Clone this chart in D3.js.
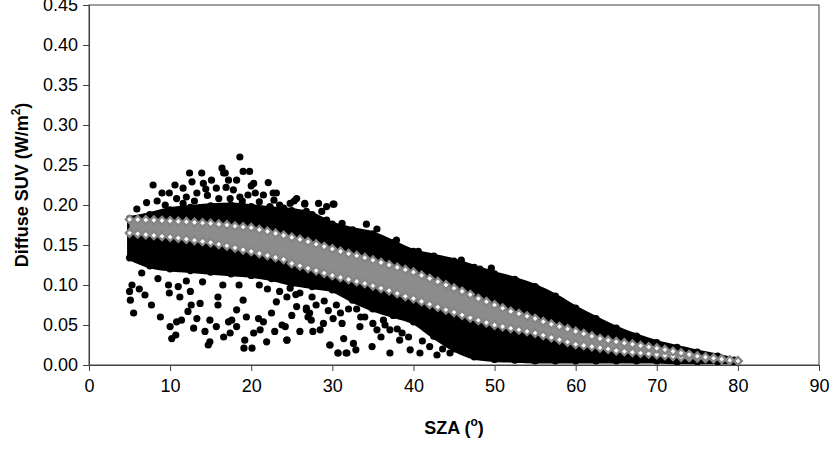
<!DOCTYPE html>
<html>
<head>
<meta charset="utf-8">
<script src="https://cdn.jsdelivr.net/npm/d3@7"></script>
<style>
  body { margin: 0; background: #fff; }
  svg text { font-family: "Liberation Sans", Arial, sans-serif; }
</style>
</head>
<body>
<div id="chart"></div>
<script>
// measured SUV cloud: dense core, upper and lower edge (W/m2) by SZA
const cloudSza = [5, 7.5, 10, 12.5, 15, 17.5, 20, 22.5, 25, 27.5, 30, 32.5, 35, 37.5, 40, 42.5, 45, 47.5, 50, 52.5, 55, 57.5, 60, 62.5, 65, 67.5, 70, 72.5, 75, 77.5, 79.5];
const cloudHi = [0.183, 0.188, 0.194, 0.197, 0.199, 0.2, 0.198, 0.195, 0.193, 0.188, 0.176, 0.169, 0.164, 0.153, 0.142, 0.136, 0.13, 0.122, 0.114, 0.107, 0.098, 0.086, 0.071, 0.058, 0.046, 0.036, 0.028, 0.022, 0.016, 0.011, 0.006];
const cloudLo = [0.134, 0.124, 0.12, 0.118, 0.116, 0.114, 0.112, 0.108, 0.102, 0.098, 0.094, 0.081, 0.07, 0.062, 0.054, 0.036, 0.02, 0.01, 0.007, 0.006, 0.005, 0.005, 0.005, 0.005, 0.005, 0.005, 0.005, 0.004, 0.004, 0.004, 0.004];

// scattered measured points outside the core
const scatterSza = [18.6, 7.9, 7.1, 5.9, 12.4, 13.9, 16.4, 16.8, 19.0, 19.8, 9.0, 9.9, 20.3, 22.1, 22.7, 10.6, 12.7,
  23.1, 25.6, 26.6, 28.3, 30.1, 28.7, 26.6, 29.3, 30.2, 34.2, 35.5, 37.9, 40.6, 42.0, 45.9, 48.2, 49.6,
  10.8, 11.6, 13.3, 14.1, 15.1, 15.7, 16.6, 17.2, 17.8, 18.2, 17.4, 18.6, 19.6, 20.5, 21.5, 22.3, 24.0, 24.8, 26.8, 27.7, 29.3, 31.2, 11.6, 12.5, 19.0, 20.7,
  8.4, 9.4, 12.0, 13.0, 14.6, 16.0, 18.9, 21.0, 23.5, 14.4, 16.9, 20.0, 22.8, 25.3,
  24.4, 24.2, 30.7, 31.7, 29.7, 32.9, 26.0, 27.6, 28.9, 24.4, 25.6, 27.2, 24.8, 26.8,
  5.5, 5.1, 5.0, 6.2, 6.9, 5.3, 7.7, 8.8, 10.0, 10.7, 10.2, 9.8, 9.9, 11.0, 11.2, 12.5, 12.6, 12.2, 11.4, 10.8, 13.3, 13.7, 12.9, 14.3, 14.9, 14.7,
  15.9, 15.9, 17.2, 17.4, 16.6, 18.2, 19.0, 19.2, 19.1, 20.1, 20.3, 21.1, 20.9, 21.9, 22.5, 23.1, 23.8, 24.4, 18.2, 17.6, 14.9, 15.7, 19.4, 21.5, 22.9,
  26.8, 27.4, 28.5, 29.7, 31.4, 30.7, 31.8, 32.6, 33.4, 34.9, 35.5, 37.1, 38.3, 39.6, 40.8, 42.0, 42.9, 37.1, 36.3, 31.2, 30.1,
  38.6, 39.4, 41.1, 43.6, 44.5, 41.6, 43.1, 36.0, 34.0, 33.0,
  26.0, 27.5, 29.0, 30.5, 32.0, 28.0, 25.5, 31.0, 33.5, 35.0, 36.5, 38.0, 29.5, 27.0, 25.0, 23.5, 22.0, 21.0, 18.5, 16.5, 14.0, 12.0, 8.5, 6.5];
const scatterVal = [0.26, 0.225, 0.203, 0.195, 0.24, 0.24, 0.246, 0.24, 0.242, 0.242, 0.215, 0.215, 0.227, 0.228, 0.215, 0.225, 0.229,
  0.215, 0.208, 0.202, 0.202, 0.201, 0.192, 0.201, 0.198, 0.201, 0.176, 0.17, 0.156, 0.142, 0.133, 0.131, 0.12, 0.121,
  0.208, 0.202, 0.215, 0.227, 0.231, 0.221, 0.24, 0.231, 0.219, 0.231, 0.208, 0.21, 0.2125, 0.215, 0.2125, 0.198, 0.196, 0.202, 0.192, 0.185, 0.181, 0.177, 0.221, 0.194, 0.198, 0.192,
  0.205, 0.2, 0.21, 0.205, 0.212, 0.208, 0.205, 0.204, 0.2, 0.22, 0.222, 0.224, 0.206, 0.205,
  0.031, 0.048, 0.015, 0.015, 0.025, 0.019, 0.042, 0.042, 0.052, 0.085, 0.073, 0.065, 0.096, 0.071,
  0.065, 0.081, 0.092, 0.095, 0.0875, 0.1, 0.075, 0.06, 0.048, 0.0375, 0.033, 0.1, 0.09, 0.098, 0.085, 0.092, 0.075, 0.067, 0.056, 0.054, 0.058, 0.077, 0.046, 0.042, 0.029, 0.025,
  0.075, 0.085, 0.054, 0.04, 0.035, 0.069, 0.081, 0.031, 0.021, 0.021, 0.04, 0.044, 0.058, 0.029, 0.065, 0.079, 0.05, 0.031, 0.048, 0.056, 0.056, 0.048, 0.06, 0.054, 0.042,
  0.069, 0.056, 0.044, 0.025, 0.033, 0.015, 0.015, 0.027, 0.048, 0.023, 0.044, 0.015, 0.031, 0.019, 0.015, 0.023, 0.0125, 0.044, 0.056, 0.052, 0.058,
  0.04, 0.035, 0.03, 0.02, 0.015, 0.045, 0.04, 0.035, 0.06, 0.07,
  0.09, 0.085, 0.08, 0.075, 0.07, 0.075, 0.088, 0.065, 0.06, 0.052, 0.05, 0.045, 0.068, 0.06, 0.062, 0.092, 0.095, 0.1, 0.1, 0.1, 0.104, 0.105, 0.108, 0.115];

// modelled SUV band: upper and lower row of markers, SZA 5..80
const modelSza = [5, 6, 7, 8, 9, 10, 11, 12, 13, 14, 15, 16, 17, 18, 19, 20, 21, 22, 23, 24, 25, 26, 27, 28, 29, 30, 31, 32, 33, 34, 35, 36, 37, 38, 39, 40,
  41, 42, 43, 44, 45, 46, 47, 48, 49, 50, 51, 52, 53, 54, 55, 56, 57, 58, 59, 60, 61, 62, 63, 64, 65, 66, 67, 68, 69, 70, 71, 72, 73, 74, 75, 76, 77, 78, 79, 80];
const modelHi = [0.182, 0.1817, 0.1813, 0.1809, 0.1805, 0.180, 0.1795, 0.179, 0.1782, 0.1775, 0.177, 0.176, 0.175, 0.1735, 0.1725, 0.1715, 0.169, 0.167, 0.1645, 0.162,
  0.1595, 0.157, 0.154, 0.151, 0.148, 0.145, 0.142, 0.139, 0.1365, 0.134, 0.131, 0.128, 0.125, 0.122, 0.119, 0.116, 0.112, 0.108, 0.104, 0.100,
  0.096, 0.092, 0.088, 0.083, 0.079, 0.075, 0.071, 0.067, 0.064, 0.061, 0.058, 0.054, 0.051, 0.048, 0.045, 0.042, 0.039, 0.036, 0.033, 0.031,
  0.029, 0.0275, 0.026, 0.024, 0.0225, 0.021, 0.019, 0.017, 0.015, 0.013, 0.011, 0.0098, 0.0085, 0.0073, 0.006, 0.005];
const modelLo = [0.165, 0.164, 0.163, 0.162, 0.161, 0.160, 0.1587, 0.1573, 0.156, 0.1545, 0.153, 0.151, 0.149, 0.1465, 0.144, 0.142, 0.1395, 0.137, 0.1345, 0.132,
  0.127, 0.124, 0.121, 0.118, 0.115, 0.112, 0.1095, 0.107, 0.1045, 0.102, 0.099, 0.096, 0.093, 0.0895, 0.086, 0.083, 0.0795, 0.076, 0.0725, 0.069,
  0.066, 0.0625, 0.059, 0.056, 0.053, 0.050, 0.048, 0.046, 0.044, 0.042, 0.040, 0.0372, 0.0344, 0.0316, 0.0288, 0.026, 0.0245, 0.023, 0.0215, 0.020,
  0.018, 0.017, 0.016, 0.015, 0.014, 0.013, 0.012, 0.011, 0.010, 0.0095, 0.009, 0.0085, 0.008, 0.0075, 0.006, 0.005];

const xTicks = [0, 10, 20, 30, 40, 50, 60, 70, 80, 90];
const yTicks = [0, 0.05, 0.10, 0.15, 0.20, 0.25, 0.30, 0.35, 0.40, 0.45];

const margin = { top: 5, right: 17, bottom: 95, left: 89 };
const width = 836 - margin.left - margin.right;
const height = 460 - margin.top - margin.bottom;

const svg = d3.select("#chart")
    .append("svg")
    .attr("width", 836)
    .attr("height", 460);

const g = svg.append("g")
    .attr("transform", "translate(" + margin.left + "," + margin.top + ")");

const x = d3.scaleLinear().domain([0, 90]).range([0, width]);
const y = d3.scaleLinear().domain([0, 0.45]).range([height, 0]);

// plot frame
g.append("rect")
    .attr("width", width)
    .attr("height", height)
    .attr("fill", "none")
    .attr("stroke", "#404040")
    .attr("stroke-width", 1);

// dense measured cloud
const cloud = cloudSza.map((s, i) => ({ s: s, hi: cloudHi[i], lo: cloudLo[i] }));
g.append("path")
    .datum(cloud)
    .attr("fill", "#000")
    .attr("stroke", "#000")
    .attr("stroke-width", 5)
    .attr("stroke-linejoin", "round")
    .attr("d", d3.area()
        .curve(d3.curveMonotoneX)
        .x(d => x(d.s))
        .y0(d => y(d.lo))
        .y1(d => y(d.hi)));

const dots = g.append("g").attr("fill", "#000");
dots.selectAll(".edge-hi")
    .data(cloud)
    .enter()
    .append("circle")
    .attr("cx", d => x(d.s))
    .attr("cy", d => y(d.hi))
    .attr("r", 3.6);
dots.selectAll(".edge-lo")
    .data(cloud)
    .enter()
    .append("circle")
    .attr("cx", d => x(d.s))
    .attr("cy", d => y(d.lo))
    .attr("r", 3.6);
dots.selectAll(".scatter")
    .data(scatterSza)
    .enter()
    .append("circle")
    .attr("cx", d => x(d))
    .attr("cy", (d, i) => y(scatterVal[i]))
    .attr("r", 3.6);

// model band
const model = modelSza.map((s, i) => ({ s: s, hi: modelHi[i], lo: modelLo[i] }));
g.append("path")
    .datum(model)
    .attr("fill", "#8c8c8c")
    .attr("d", d3.area()
        .curve(d3.curveMonotoneX)
        .x(d => x(d.s))
        .y0(d => y(d.lo))
        .y1(d => y(d.hi)));

const diamond = d3.symbol(d3.symbolSquare, 30)();
const marks = g.append("g");
["lo", "hi"].forEach(function(key) {
    marks.selectAll(".m-" + key)
        .data(model)
        .enter()
        .append("path")
        .attr("d", diamond)
        .attr("transform", d => "translate(" + x(d.s) + "," + y(d[key]) + ") rotate(45)")
        .attr("fill", "#fff")
        .attr("stroke", "#858585")
        .attr("stroke-width", 2.2);
});

// axes
const xAxis = g.append("g")
    .attr("transform", "translate(0," + height + ")")
    .call(d3.axisBottom(x).tickValues(xTicks).tickSize(6).tickPadding(8).tickFormat(d3.format("d")));
const yAxis = g.append("g")
    .call(d3.axisLeft(y).tickValues(yTicks).tickSize(6).tickPadding(5).tickFormat(d3.format(".2f")));

[xAxis, yAxis].forEach(function(a) {
    a.select(".domain").attr("stroke", "#404040");
    a.selectAll(".tick line").attr("stroke", "#404040");
    a.selectAll(".tick text")
        .attr("fill", "#000")
        .style("font-size", "18px")
        .style("font-family", "'Liberation Sans', Arial, sans-serif");
});

// axis titles
const xTitle = svg.append("text")
    .attr("x", margin.left + width / 2)
    .attr("y", 434)
    .attr("text-anchor", "middle")
    .style("font-size", "18px")
    .style("font-weight", "bold");
xTitle.append("tspan").text("SZA (");
xTitle.append("tspan").attr("dy", -8).style("font-size", "12px").text("o");
xTitle.append("tspan").attr("dy", 8).text(")");

const yTitle = svg.append("text")
    .attr("transform", "translate(28," + (margin.top + height / 2) + ") rotate(-90)")
    .attr("text-anchor", "middle")
    .style("font-size", "18px")
    .style("font-weight", "bold");
yTitle.append("tspan").text("Diffuse SUV (W/m");
yTitle.append("tspan").attr("dy", -8).style("font-size", "12px").text("2");
yTitle.append("tspan").attr("dy", 8).text(")");
</script>
</body>
</html>
